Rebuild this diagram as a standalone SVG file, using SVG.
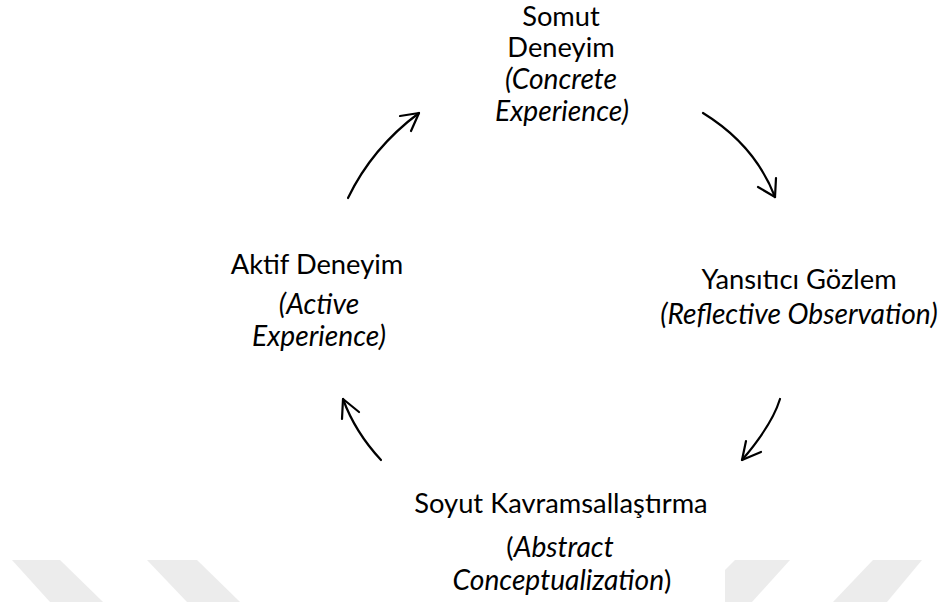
<svg xmlns="http://www.w3.org/2000/svg" width="944" height="602" viewBox="0 0 944 602">
  <style>
    .t { font-family: Lato, "Liberation Sans", sans-serif; font-size: 27.3px; fill: #000; text-anchor: middle; }
    .i { font-style: italic; font-size: 28.2px; }
    .arc { fill: none; stroke: #000; stroke-width: 2.2; stroke-linecap: round; stroke-linejoin: round; }
    .wm { fill: #ececec; }
  </style>
  <rect width="944" height="602" fill="#fff"/>

  <!-- faint background bands along the bottom edge -->
  <g id="bands">
    <polygon class="wm" points="12,560 60,560 103,602 50,602"/>
    <polygon class="wm" points="147,560 197,560 240,602 187,602"/>
    <polygon class="wm" points="735,560 790,560 752,602 725,602 725,570"/>
    <polygon class="wm" points="873,560 922,560 887,602 833,602"/>
  </g>

  <g id="concrete">
    <text class="t" x="561" y="26">Somut</text>
    <text class="t" x="561" y="57">Deneyim</text>
    <text class="t i" x="561" y="89">(Concrete</text>
    <text class="t i" x="562" y="121">Experience)</text>
  </g>

  <g id="reflective">
    <text class="t" x="799" y="289">Yansıtıcı Gözlem</text>
    <text class="t i" x="799" y="324">(Reflective Observation)</text>
  </g>

  <g id="abstract">
    <text class="t" x="561" y="513">Soyut Kavramsallaştırma</text>
    <text class="t" x="560" y="557">(<tspan class="i">Abstract</tspan></text>
    <text class="t" x="562" y="590"><tspan class="i">Conceptualization</tspan>)</text>
  </g>

  <g id="active">
    <text class="t" x="317" y="274">Aktif Deneyim</text>
    <text class="t i" x="319" y="314">(Active</text>
    <text class="t i" x="319" y="346">Experience)</text>
  </g>

  <g id="connectors">
    <!-- concrete -> reflective -->
    <path class="arc" d="M703,113 Q755,145 775,197"/>
    <path class="arc" d="M758,187 L775,197 L776,178"/>
    <!-- reflective -> abstract -->
    <path class="arc" d="M780,399 Q772,425 742,460"/>
    <path class="arc" d="M746,441 L742,460 L761,452"/>
    <!-- abstract -> active -->
    <path class="arc" d="M381,460 Q355,432 343,399"/>
    <path class="arc" d="M342,419 L343,399 L359,412"/>
    <!-- active -> concrete -->
    <path class="arc" d="M348,198 Q372,148 419,113"/>
    <path class="arc" d="M400,116 L419,113 L411,131"/>
  </g>
</svg>
